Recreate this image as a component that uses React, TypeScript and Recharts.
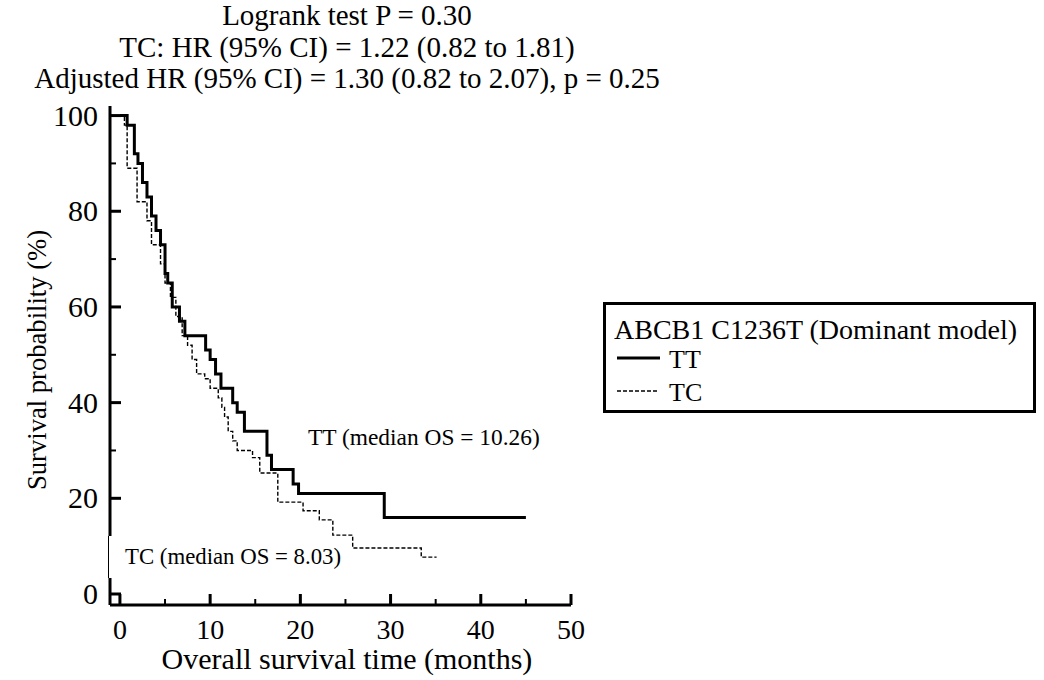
import React from 'react'
import { Line, LineChart, XAxis, YAxis } from 'recharts'

// Kaplan-Meier steps: [months, survival %]
const ttSteps: [number, number][] = [
  [0, 100], [0.8, 98], [1.6, 92], [2.0, 90], [2.5, 86], [3.0, 83], [3.5, 79], [4.0, 76],
  [4.5, 73], [5.0, 67], [5.3, 65], [5.8, 60], [6.6, 57], [7.2, 54], [9.5, 51], [10.0, 49],
  [10.6, 46], [11.2, 43], [12.5, 40], [13.0, 38], [13.8, 34], [16.3, 29], [16.8, 26],
  [19.2, 23], [19.8, 21], [29.3, 16], [45, 16],
]
const tcSteps: [number, number][] = [
  [0, 100], [0.5, 98], [0.8, 89], [1.9, 82], [3.0, 78], [3.5, 73], [4.5, 69], [5.0, 65],
  [5.6, 62], [6.2, 58], [6.9, 54], [7.5, 52], [8.0, 49], [8.5, 46], [9.4, 45], [10.0, 43],
  [10.9, 41], [11.3, 39], [11.6, 37], [12.0, 34], [12.5, 32], [13.0, 30], [14.7, 28.5],
  [15.5, 25.3], [17.5, 19.2], [20.3, 17.4], [22.1, 15.5], [23.6, 12.3], [25.8, 9.6],
  [33.4, 7.7], [35.1, 7.7],
]
const xTicks = [0, 5, 10, 15, 20, 25, 30, 35, 40, 45, 50]
const yTicks = [0, 10, 20, 30, 40, 50, 60, 70, 80, 90, 100]
const titleLines = [
  'Logrank test P = 0.30',
  'TC: HR (95% CI) = 1.22 (0.82 to 1.81)',
  'Adjusted HR (95% CI) = 1.30 (0.82 to 2.07), p = 0.25',
]
const legendTitle = 'ABCB1 C1236T (Dominant model)'

const ttData = ttSteps.map(([t, s]) => ({ t, s }))
const tcData = tcSteps.map(([t, s]) => ({ t, s }))

const FONT = '"Liberation Serif", "Times New Roman", serif'

const XTick = (props: any) => {
  const { x, y, payload } = props
  const major = payload.value % 10 === 0
  return (
    <g>
      <line x1={x} x2={x} y1={y} y2={y - (major ? 11 : 6)} stroke="#000" strokeWidth={major ? 3 : 2} />
      {major && (
        <text x={x} y={y + 34} textAnchor="middle" fontFamily={FONT} fontSize={28} fill="#000">
          {payload.value}
        </text>
      )}
    </g>
  )
}

const YTick = (props: any) => {
  const { x, y, payload } = props
  const major = payload.value % 20 === 0
  return (
    <g>
      <line x1={x} x2={x + (major ? 11 : 6)} y1={y} y2={y} stroke="#000" strokeWidth={major ? 3 : 2} />
      {major && (
        <text x={x - 12} y={y + 10} textAnchor="end" fontFamily={FONT} fontSize={30} fill="#000">
          {payload.value}
        </text>
      )}
    </g>
  )
}

export default function App() {
  return (
    <div style={{ position: 'absolute', left: 0, top: 0, width: 1044, height: 680, background: '#fff' }}>
      <LineChart width={1044} height={680} margin={{ top: 106, right: 473, bottom: 0, left: 0 }}>
        <XAxis
          dataKey="t"
          type="number"
          domain={[-1.1, 50]}
          ticks={xTicks}
          allowDataOverflow
          height={75}
          tickSize={0}
          tickMargin={0}
          tickLine={false}
          axisLine={{ stroke: '#000', strokeWidth: 3 }}
          tick={<XTick />}
          interval={0}
        />
        <YAxis
          dataKey="s"
          type="number"
          domain={[-2.3, 102]}
          ticks={yTicks}
          allowDataOverflow
          width={110}
          tickSize={0}
          tickMargin={0}
          tickLine={false}
          axisLine={{ stroke: '#000', strokeWidth: 3 }}
          tick={<YTick />}
          interval={0}
        />
        <Line data={ttData} dataKey="s" name="TT" type="stepAfter" stroke="#000" strokeWidth={3}
          dot={false} isAnimationActive={false} />
        <Line data={tcData} dataKey="s" name="TC" type="stepAfter" stroke="#000" strokeWidth={1.4}
          strokeDasharray="4 2" dot={false} isAnimationActive={false} />
      </LineChart>
      <svg width={1044} height={680} style={{ position: 'absolute', left: 0, top: 0, pointerEvents: 'none' }}>
        {titleLines.map((line, i) => (
          <text key={i} x={347} y={25 + i * 31.5} textAnchor="middle" fontFamily={FONT} fontSize={29} fill="#000">
            {line}
          </text>
        ))}
        <text x={308} y={445} fontFamily={FONT} fontSize={23.4} fill="#000">TT (median OS = 10.26)</text>
        {/* the TC label's backdrop thins the y axis in the original */}
        <rect x={108} y={536} width={12} height={42} fill="#fff" />
        <line x1={108.5} x2={108.5} y1={536} y2={578} stroke="#000" strokeWidth={1} />
        <text x={125} y={564} fontFamily={FONT} fontSize={22.8} fill="#000">TC (median OS = 8.03)</text>
        <text x={347} y={669} textAnchor="middle" fontFamily={FONT} fontSize={30} fill="#000">
          Overall survival time (months)
        </text>
        <text x={46} y={360} transform="rotate(-90 46 360)" textAnchor="middle" fontFamily={FONT} fontSize={26.6} fill="#000">
          Survival probability (%)
        </text>
        <g fontFamily={FONT} fill="#000">
          <rect x={604.5} y={303.5} width={430} height={108} fill="#fff" stroke="#000" strokeWidth={3} />
          <text x={614} y={339} fontSize={28}>{legendTitle}</text>
          <line x1={617} x2={660} y1={358} y2={358} stroke="#000" strokeWidth={3} />
          <text x={669} y={368} fontSize={26}>TT</text>
          <line x1={617} x2={659} y1={391} y2={391} stroke="#000" strokeWidth={1.4} strokeDasharray="4 2" />
          <text x={669} y={401} fontSize={26}>TC</text>
        </g>
      </svg>
    </div>
  )
}
